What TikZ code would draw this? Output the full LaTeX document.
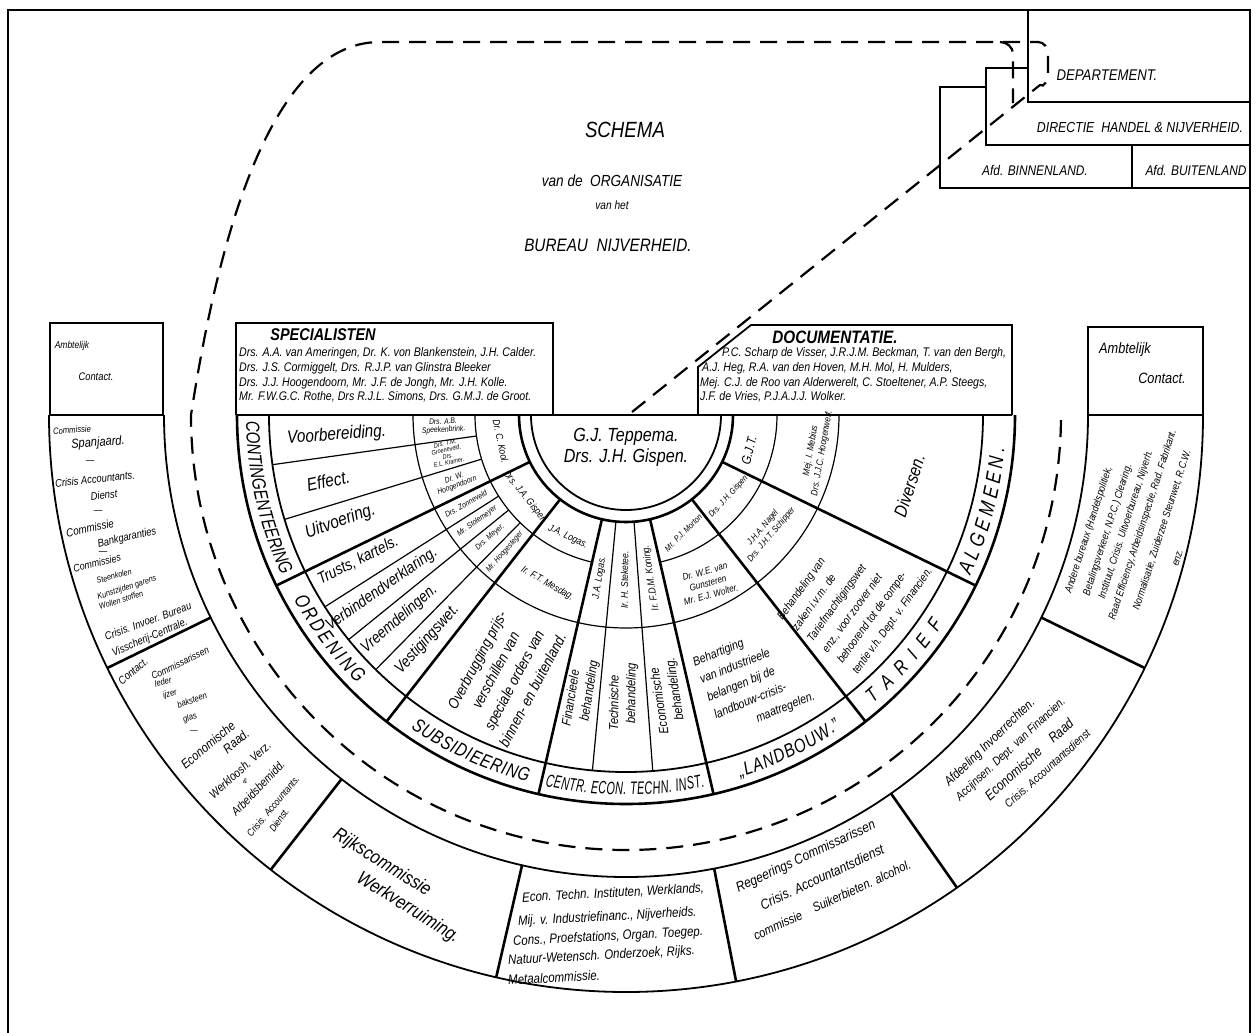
\documentclass[tikz,border=0pt]{standalone}
\usepackage{fontspec}
\setmainfont{Liberation Sans}[FakeStretch=0.85]
\newfontfamily\labfont{Liberation Sans}[FakeStretch=0.8]
\newfontfamily\labfontn{Liberation Sans}[FakeStretch=0.6]
\usetikzlibrary{decorations.text}
\newcommand{\fs}[1]{\fontsize{#1}{#1}\selectfont}
\newcommand{\arclabel}[5]{%
  \path[decorate,decoration={text along path,text align=fit to path,text={|#5|#4}}]
    (#1:#3) arc[start angle=#1,end angle=#2,radius=#3];}
\begin{document}
\begin{tikzpicture}[x=1pt,y=-1pt,
  thickl/.style={line width=2.6pt},
  medl/.style={line width=1.8pt},
  thinl/.style={line width=1.2pt},
  dashl/.style={line width=2.2pt,dash pattern=on 17pt off 10pt},
  txt/.style={font=\itshape,inner sep=0pt,align=center},
  every node/.style={inner sep=0pt}]
\useasboundingbox (0,0) rectangle (1256,1033);
% frame
\draw[medl] (8,1033) -- (8,10) -- (1250,10) -- (1250,1033);
% top right boxes
\draw[medl] (1028,10) -- (1028,102) -- (1250,102);
\draw[medl] (1028,68) -- (986,68) -- (986,145) -- (1250,145);
\draw[medl] (986,87) -- (940,87) -- (940,188) -- (1250,188);
\draw[medl] (1132,145) -- (1132,188);
\node[txt,font=\itshape\fs{15.5}] (dep) at (1107,75) {DEPARTEMENT.};
\node[txt,font=\itshape\fs{14.5}] (dir) at (1140,128) {DIRECTIE\ \ HANDEL \& NIJVERHEID.};
\node[txt,font=\itshape\fs{14}] (afdb) at (1035,170) {Afd. BINNENLAND.};
\node[txt,font=\itshape\fs{14}] (afdu) at (1196,170) {Afd. BUITENLAND};
% title
\node[txt,font=\itshape\fs{22}] (t1) at (625,130) {SCHEMA};
\node[txt,font=\itshape\fs{16}] (t2) at (612,181) {van de\ \ ORGANISATIE};
\node[txt,font=\itshape\fs{12}] (t3) at (612,205) {van het};
\node[txt,font=\itshape\fs{18}] (t4) at (608,245) {BUREAU\ \ NIJVERHEID.};
% dashed outline
\draw[dashl] (632,412) -- (1040,85) to[out=-40,in=-90] (1048,74) -- (1048,54) to[out=90,in=0] (1038,42)
  -- (380,42) .. controls (265,42) and (215,260) .. (191,415)
  arc[start angle=180,end angle=0,radius=435];
\draw[dashl] (1000,42) to[out=0,in=90] (1013,54) -- (1013,103);
% specialisten box
\draw[medl] (236,415) -- (236,323) -- (553,323) -- (553,415);
\node[txt,font=\itshape\bfseries\fs{17}] (spec) at (323,335) {SPECIALISTEN};
\node[txt,anchor=west,font=\itshape\fs{12.5}] (sp1) at (239,353) {Drs. A.A. van Ameringen, Dr. K. von Blankenstein, J.H. Calder.};
\node[txt,anchor=west,font=\itshape\fs{12.5}] (sp2) at (239,368) {Drs. J.S. Cormiggelt, Drs. R.J.P. van Glinstra Bleeker};
\node[txt,anchor=west,font=\itshape\fs{12.5}] (sp3) at (239,383) {Drs. J.J. Hoogendoorn, Mr. J.F. de Jongh, Mr. J.H. Kolle.};
\node[txt,anchor=west,font=\itshape\fs{12.5}] (sp4) at (239,397) {Mr. F.W.G.C. Rothe, Drs R.J.L. Simons, Drs. G.M.J. de Groot.};
% documentatie box
\draw[medl] (698,415) -- (698,367) -- (751,325) -- (1012,325) -- (1012,415);
\node[txt,font=\itshape\bfseries\fs{18}] (doc) at (835,337) {DOCUMENTATIE.};
\node[txt,anchor=west,font=\itshape\fs{12.5}] (dc1) at (722,353) {P.C. Scharp de Visser, J.R.J.M. Beckman, T. van den Bergh,};
\node[txt,anchor=west,font=\itshape\fs{12.5}] (dc2) at (702,368) {A.J. Heg, R.A. van den Hoven, M.H. Mol, H. Mulders,};
\node[txt,anchor=west,font=\itshape\fs{12.5}] (dc3) at (700,383) {Mej. C.J. de Roo van Alderwerelt, C. Stoeltener, A.P. Steegs,};
\node[txt,anchor=west,font=\itshape\fs{12.5}] (dc4) at (700,397) {J.F. de Vries, P.J.A.J.J. Wolker.};
% ambtelijk boxes
\draw[medl] (50,415) rectangle (163,323);
\node[txt,font=\itshape\fs{10}] (al1) at (72,346) {Ambtelijk};
\node[txt,font=\itshape\fs{11}] (al2) at (96,377) {Contact.};
\draw[medl] (1088,415) rectangle (1203,327);
\node[txt,font=\itshape\fs{15}] (ar1) at (1125,350) {Ambtelijk};
\node[txt,font=\itshape\fs{15}] (ar2) at (1162,378) {Contact.};
% ---------- fan ----------
\begin{scope}[shift={(626,415)}]
\draw[thickl] (-390,0) -- (386,0);
\draw[medl] (0:95) arc[start angle=0,end angle=180,radius=95];
\draw[thickl] (0:107) arc[start angle=0,end angle=180,radius=107];
\draw[thinl] (0:151) arc[start angle=0,end angle=77,radius=151];
\draw[thinl] (103:151) arc[start angle=103,end angle=180,radius=151];
\draw[thinl] (0:213) arc[start angle=0,end angle=180,radius=213];
\draw[medl] (0:357) arc[start angle=0,end angle=180,radius=357];
\draw[thickl] (0:389) arc[start angle=0,end angle=180,radius=389];
\foreach \a in {154,128,103,77,52,26} \draw[thickl] (\a:107) -- (\a:389);
\foreach \a in {172,163,147.5,141,134.5} \draw[thinl] (\a:151) -- (\a:357);
\foreach \a in {95.4,85.7} \draw[thinl] (\a:107) -- (\a:357);
% outer band
\draw[medl] (0:462) arc[start angle=0,end angle=180,radius=462];
\draw[medl] (0:577) arc[start angle=0,end angle=180,radius=577];
\foreach \a in {154,128,103,79,55,26} \draw[thickl] (\a:462) -- (\a:577);
% arc labels
\arclabel{179}{155}{380}{CONTINGENTEERING}{\labfont\itshape\fontsize{19}{19}\selectfont}
\arclabel{151}{135}{380}{ORDENING}{\labfont\itshape\fontsize{20}{20}\selectfont}
\arclabel{124.5}{105}{380}{SUBSIDIEERING}{\labfont\itshape\fontsize{19}{19}\selectfont}
\arclabel{102.3}{78}{380}{CENTR. ECON. TECHN. INST.}{\labfontn\itshape\fontsize{18}{18}\selectfont}
\arclabel{72.5}{55.5}{380}{„LANDBOUW.”}{\labfont\itshape\fontsize{19}{19}\selectfont}
\arclabel{49.5}{33.5}{380}{TARIEF}{\labfont\itshape\fontsize{20}{20}\selectfont}
\arclabel{25}{5}{380}{ALGEMEEN.}{\labfont\itshape\fontsize{21}{21}\selectfont}
% centre
\node[txt,font=\itshape\fs{19}] (g1) at (0,22) {G.J. Teppema.};
\node[txt,font=\itshape\fs{19}] (g2) at (0,43) {Drs. J.H. Gispen.};
% contingenteering
\node[txt,font=\itshape\fs{18},rotate=4] (c1) at (176:290) {Voorbereiding.};
\node[txt,font=\itshape\fs{18},rotate=12.5] (c2) at (167.5:305) {Effect.};
\node[txt,font=\itshape\fs{18},rotate=20] (c3) at (159.5:305) {Uitvoering.};
\node[txt,font=\itshape\fs{8},rotate=3.5] (c4) at (176.5:183) {Drs. A.B.\\Speekenbrink.};
\node[txt,font=\itshape\fs{6.5},rotate=12] (c5) at (168:183) {Drs. T.M.\\Groeneveld.\\Drs.\\E.L. Kramer.};
\node[txt,font=\itshape\fs{8},rotate=21] (c6) at (158.5:183) {Dr. W.\\Hoogendoorn};
\node[txt,font=\itshape\fs{10},rotate=-78] (c7) at (168:128) {Dr. C. Kool.};
% ordening
\node[txt,font=\itshape\fs{10},rotate=-51] (o0) at (141:130) {Drs. J.A. Gispen};
\node[txt,font=\itshape\fs{8},rotate=29] (o1) at (151:183) {Drs. Zonneveld};
\node[txt,font=\itshape\fs{8},rotate=35.5] (o2) at (144.5:183) {Mr. Stolemeyer};
\node[txt,font=\itshape\fs{8},rotate=42] (o3) at (138:183) {Drs. Meyer.};
\node[txt,font=\itshape\fs{8},rotate=48.5] (o4) at (131.5:183) {Mr. Hoogesteger};
\node[txt,font=\itshape\fs{16},rotate=27] (o5) at (151.5:305) {Trusts, kartels.};
\node[txt,font=\itshape\fs{16},rotate=35] (o6) at (144.5:300) {Verbindendverklaring.};
\node[txt,font=\itshape\fs{16},rotate=41] (o7) at (138:305) {Vreemdelingen.};
\node[txt,font=\itshape\fs{16},rotate=48] (o8) at (131.5:300) {Vestigingswet.};
% subsidieering
\node[txt,font=\itshape\fs{10},rotate=-25] (s1) at (115.5:135) {J.A. Logas.};
\node[txt,font=\itshape\fs{10},rotate=-30] (s2) at (115:186) {Ir. F.T. Mesdag.};
\node[txt,font=\itshape\fontsize{15}{21}\selectfont,rotate=62] (s3) at (115:287) {Overbrugging prijs-\\verschillen van\\speciale orders van\\binnen- en buitenland.};
% centr
\node[txt,font=\itshape\fs{10},rotate=81] (e1) at (99.2:165) {J.A. Logas.};
\node[txt,font=\itshape\fs{10},rotate=89.5] (e2) at (90.5:165) {Ir. H. Steketee.};
\node[txt,font=\itshape\fs{10},rotate=98.7] (e3) at (81.3:165) {Ir. F.D.M. Koning.};
\node[txt,font=\itshape\fontsize{13}{17}\selectfont,rotate=81] (e4) at (99.2:288) {Financieele\\\hspace*{1.5em}behandeling};
\node[txt,font=\itshape\fontsize{13}{17}\selectfont,rotate=89.5] (e5) at (90.5:288) {Technische\\\hspace*{1.5em}behandeling};
\node[txt,font=\itshape\fontsize{13}{17}\selectfont,rotate=98.7] (e6) at (81.5:288) {Economische\\\hspace*{1.5em}behandeling.};
% landbouw
\node[txt,font=\itshape\fs{8.5},rotate=45] (l1) at (64:131) {Mr. P.J. Morton};
\node[txt,font=\itshape\fontsize{9.5}{12}\selectfont,rotate=15] (l2) at (64:187) {Dr. W.E. van\\Gunsteren\\Mr. E.J. Wolter.};
\node[txt,align=left,font=\itshape\fontsize{12.5}{19}\selectfont,rotate=22] (l3) at (64.2:294) {Behartiging\\van industrieele\\belangen bij de\\landbouw-crisis-\\\hspace*{3em}maatregelen.};
% tarief
\node[txt,font=\itshape\fs{8.5},rotate=48] (r1) at (38.5:131) {Drs. J.H. Gispen};
\node[txt,font=\itshape\fontsize{9}{11}\selectfont,rotate=50] (r2) at (39.5:183) {J.H.A. Nagel\\Drs. J.H.T. Schipper};
\node[txt,align=left,font=\itshape\fontsize{11.5}{18.5}\selectfont,rotate=54] (r3) at (38:291) {Behandeling van\\zaken i.v.m. de\\Tariefmachtigingswet\\enz., voor zoover niet\\behoorend tot de compe-\\tentie v.h. Dept. v. Financien.};
% algemeen
\node[txt,font=\itshape\fs{13},rotate=76] (m1) at (16:128) {G.J.T.};
\node[txt,font=\itshape\fontsize{9.5}{11.5}\selectfont,rotate=80] (m2) at (11:194) {Mej. I. Mebius\\Drs. J.J.C. Hoogenwerf.};
\node[txt,font=\itshape\fs{18},rotate=72] (m3) at (14:292) {Diversen.};
% outer band sector F (polar)
\node[txt,font=\itshape\fs{13},rotate=44] (lf1) at (42:490) {Afdeeling Invoerrechten.};
\node[txt,font=\itshape\fs{12},rotate=43] (lf2) at (41:510) {Accijnsen. Dept. van Financien.};
\node[txt,font=\itshape\fs{14},rotate=42] (lf3) at (40.5:530) {Economische\quad Raad};
\node[txt,font=\itshape\fs{11.5},rotate=42] (lf4) at (40:550) {Crisis. Accountantsdienst};
\end{scope}
% outer band texts, sector A
\node[txt,font=\itshape\fs{9},rotate=4] (la1) at (72,430) {Commissie};
\node[txt,font=\itshape\fs{13},rotate=4] (la2) at (98,443) {Spanjaard.};
\node[txt,font=\itshape\fs{10}] (la3) at (90,462) {—};
\node[txt,font=\itshape\fs{11},rotate=6] (la4) at (95,479) {Crisis Accountants.};
\node[txt,font=\itshape\fs{11},rotate=6] (la5) at (104,495) {Dienst};
\node[txt,font=\itshape\fs{10}] (la6) at (98,512) {—};
\node[txt,font=\itshape\fs{11.5},rotate=12] (la7) at (90,528) {Commissie};
\node[txt,font=\itshape\fs{11},rotate=13] (la8) at (127,538) {Bankgaranties};
\node[txt,font=\itshape\fs{10}] (la9) at (103,553) {—};
\node[txt,font=\itshape\fs{10.5},rotate=14] (la10) at (97,563) {Commissies};
\node[txt,font=\itshape\fs{8.5},rotate=16] (la11) at (114,576) {Steenkolen};
\node[txt,font=\itshape\fs{8.5},rotate=18] (la12) at (127,588) {Kunstzijden garens};
\node[txt,font=\itshape\fs{8.5},rotate=18] (la13) at (121,600) {Wollen stoffen};
\node[txt,font=\itshape\fs{11},rotate=20] (la14) at (148,621) {Crisis. Invoer. Bureau};
\node[txt,font=\itshape\fs{11},rotate=23] (la15) at (150,638) {Visscherij-Centrale.};
% sector B
\node[txt,font=\itshape\fs{11},rotate=40] (lb1) at (133,671) {Contact.};
\node[txt,font=\itshape\fs{10},rotate=26] (lb2) at (180,663) {Commissarissen};
\node[txt,font=\itshape\fs{9},rotate=15] (lb3) at (163,682) {leder};
\node[txt,font=\itshape\fs{9},rotate=15] (lb4) at (170,694) {ijzer};
\node[txt,font=\itshape\fs{9},rotate=20] (lb5) at (192,700) {baksteen};
\node[txt,font=\itshape\fs{9},rotate=20] (lb6) at (190,718) {glas};
\node[txt,font=\itshape\fs{9}] (lb7) at (194,732) {—};
\node[txt,font=\itshape\fs{13},rotate=40] (lb8) at (208,745) {Economische};
\node[txt,font=\itshape\fs{13},rotate=40] (lb9) at (236,741) {Raad.};
\node[txt,font=\itshape\fs{12},rotate=42] (lb10) at (240,770) {Werkloosh. Verz.};
\node[txt,font=\itshape\fs{7}] (lb11) at (245,781) {\&};
\node[txt,font=\itshape\fs{12},rotate=46] (lb12) at (258,788) {Arbeidsbemidd.};
\node[txt,font=\itshape\fs{10},rotate=50] (lb13) at (273,806) {Crisis. Accountants.};
\node[txt,font=\itshape\fs{10},rotate=55] (lb14) at (279,820) {Dienst.};
% sector C
\node[txt,font=\itshape\fs{19},rotate=-32] (lc1) at (382,863) {Rijkscommissie};
\node[txt,font=\itshape\fs{19},rotate=-32] (lc2) at (408,908) {Werkverruiming.};
% sector D
\node[txt,anchor=west,font=\itshape\fs{13.5},rotate=3] (ld1) at (522,898) {Econ. Techn. Instituten, Werklands,};
\node[txt,anchor=west,font=\itshape\fs{13.5},rotate=3] (ld2) at (518,922) {Mij. v. Industriefinanc., Nijverheids.};
\node[txt,anchor=west,font=\itshape\fs{13.5},rotate=3] (ld3) at (513,942) {Cons., Proefstations, Organ. Toegep.};
\node[txt,anchor=west,font=\itshape\fs{13.5},rotate=3] (ld4) at (508,961) {Natuur-Wetensch. Onderzoek, Rijks.};
\node[txt,anchor=west,font=\itshape\fs{13.5},rotate=3] (ld5) at (508,980) {Metaalcommissie.};
% sector E
\node[txt,font=\itshape\fs{14},rotate=25] (le1) at (806,857) {Regeerings Commissarissen};
\node[txt,font=\itshape\fs{14},rotate=25] (le2) at (822,877) {Crisis. Accountantsdienst};
\node[txt,font=\itshape\fs{13},rotate=25] (le3) at (832,900) {commissie\quad Suikerbieten. alcohol.};
% sector G
\node[txt,font=\itshape\fs{10.5},rotate=72] (lg1) at (1089,530) {Andere bureaux (Handelspolitiek,};
\node[txt,font=\itshape\fs{10.5},rotate=72] (lg2) at (1108,530) {Betalingsverkeer, N.P.C.) Clearing.};
\node[txt,font=\itshape\fs{10.5},rotate=72] (lg3) at (1126,525) {Instituut, Crisis. Uitvoerbureau, Nijverh.};
\node[txt,font=\itshape\fs{10.5},rotate=72] (lg4) at (1143,525) {Raad Efficiency, Arbeidsinspectie, Rad. Fabrikant.};
\node[txt,font=\itshape\fs{10.5},rotate=72] (lg5) at (1162,530) {Normalisatie, Zuiderzee Steunwet, R.C.W.};
\node[txt,font=\itshape\fs{10.5},rotate=72] (lg6) at (1178,558) {enz.};
\end{tikzpicture}
\end{document}
